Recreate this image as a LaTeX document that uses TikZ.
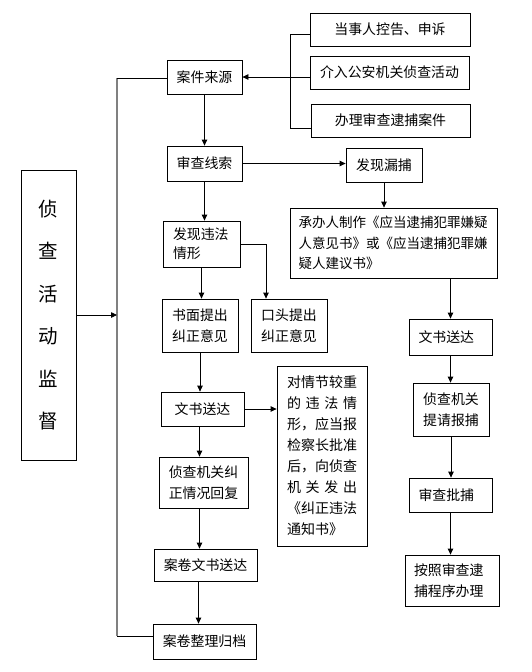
\documentclass[tikz,border=0pt]{standalone}
\usepackage{fontspec}
\setmainfont{Noto Sans CJK SC}
\usetikzlibrary{arrows.meta}
\begin{document}
\begin{tikzpicture}[x=1pt,y=-1pt,
  box/.style={draw,line width=0.8pt,inner sep=0pt,align=center,font=\fontsize{13.9}{20.5}\selectfont},
  ln/.style={line width=0.8pt},
  arr/.style={line width=0.8pt,-{Triangle[length=6pt,width=5.5pt]}}]
\fill[white] (0,0) rectangle (531,672);
\useasboundingbox (0,0) rectangle (531,672);
% nodes
\node[box,minimum width=160pt,minimum height=33pt] (src1) at (390,29.5) {当事人控告、申诉};
\node[box,minimum width=159pt,minimum height=33pt] (src2) at (389.5,72.5) {介入公安机关侦查活动};
\node[box,minimum width=159pt,minimum height=33pt] (src3) at (390.5,120.5) {办理审查逮捕案件};
\node[box,minimum width=75pt,minimum height=34pt] (ajly) at (204.5,77) {案件来源};
\node[box,minimum width=75pt,minimum height=35pt] (scxs) at (204.5,163.5) {审查线索};
\node[box,minimum width=76pt,minimum height=34pt] (fxlb) at (384,165) {发现漏捕};
\node[box,minimum width=207pt,minimum height=70pt,text width=190pt,align=left,font=\fontsize{13.5}{20.5}\selectfont] (cbr) at (393.5,243) {承办人制作《应当逮捕犯罪嫌疑\\人意见书》或《应当逮捕犯罪嫌\\疑人建议书》};
\node[box,minimum width=83pt,minimum height=36pt,text width=64pt,align=left] (wsR) at (450.5,337) {文书送达};
\node[box,minimum width=77pt,minimum height=46pt,text width=57pt,align=left,font=\fontsize{13.9}{19}\selectfont] (fxwf) at (201.5,244) {发现违法\\情形};
\node[box,minimum width=76pt,minimum height=53pt] (smtc) at (200,325.5) {书面提出\\纠正意见};
\node[box,minimum width=76pt,minimum height=53pt] (kttc) at (289,325.5) {口头提出\\纠正意见};
\node[box,minimum width=55pt,minimum height=290pt,font=\fontsize{19.5}{42.5}\selectfont] (jd) at (48.5,315) {侦\\查\\活\\动\\监\\督};
\node[box,minimum width=83pt,minimum height=34pt] (wsM) at (202.5,409) {文书送达};
\node[box,minimum width=90pt,minimum height=180pt,text width=70pt,align=left,font=\fontsize{14}{21}\selectfont] (dqj) at (322,456) {对情节较重\\\makebox[70pt][s]{的\hfill 违\hfill 法\hfill 情}\\形，应当报\\检察长批准\\后，向侦查\\\makebox[70pt][s]{机\hfill 关\hfill 发\hfill 出}\\《纠正违法\\通知书》};
\node[box,minimum width=89pt,minimum height=51pt] (zcjg) at (203.5,482.5) {侦查机关纠\\正情况回复};
\node[box,minimum width=103pt,minimum height=32pt] (ajws) at (205.5,565) {案卷文书送达};
\node[box,minimum width=103pt,minimum height=35pt] (ajzl) at (204.5,641.5) {案卷整理归档};
\node[box,minimum width=76pt,minimum height=53pt] (zcbq) at (451,409.5) {侦查机关\\提请报捕};
\node[box,minimum width=83pt,minimum height=34pt,text width=64pt,align=left] (scpb) at (450.5,495) {审查批捕};
\node[box,minimum width=94pt,minimum height=51pt,text width=76pt,align=left] (azsc) at (452,580.5) {按照审查逮\\捕程序办理};
% bracket of sources
\coordinate (bt) at (290,34);
\coordinate (bb) at (290,128);
\draw[ln] (bt -| src1.west) -- (bt) -- (bb) -- (bb -| src3.west);
\draw[arr] (src2.west |- ajly.east) -- (ajly.east);
% main column
\draw[arr] (ajly.south) -- (scxs.north);
\draw[arr] (scxs.east) -- (scxs.east -| fxlb.west);
\draw[arr] (scxs.south) -- (scxs.south |- fxwf.north);
\draw[arr] (fxwf.south) -- (fxwf.south |- smtc.north);
\draw[arr] (fxwf.east) -| ([xshift=-23pt]kttc.north);
\draw[arr] (smtc.south) -- (smtc.south |- wsM.north);
\draw[arr] (wsM.east) -- (wsM.east -| dqj.west);
\draw[arr] ([xshift=-3pt]wsM.south) -- ([xshift=-3pt]wsM.south |- zcjg.north);
\draw[arr] ([xshift=-4pt]zcjg.south) -- ([xshift=-4pt]zcjg.south |- ajws.north);
\draw[arr] ([xshift=-7pt]ajws.south) -- ([xshift=-7pt]ajws.south |- ajzl.north);
% right column
\draw[arr] (fxlb.south) -- (fxlb.south |- cbr.north);
\draw[arr] (wsR.north |- cbr.south) -- (wsR.north);
\draw[arr] (wsR.south) -- (wsR.south |- zcbq.north);
\draw[arr] (zcbq.south) -- (zcbq.south |- scpb.north);
\draw[arr] (scpb.south) -- (scpb.south |- azsc.north);
% gray bus
\coordinate (gt) at (117,78);
\coordinate (gb) at (117,636);
\draw[gray,line width=1.3pt] (gt) -- (gb);
\draw[ln] (gt) -- (gt -| ajly.west);
\draw[ln] (gb) -- (gb -| ajzl.west);
\draw[arr] (jd.east) -- (jd.east -| gt);
\end{tikzpicture}
\end{document}
